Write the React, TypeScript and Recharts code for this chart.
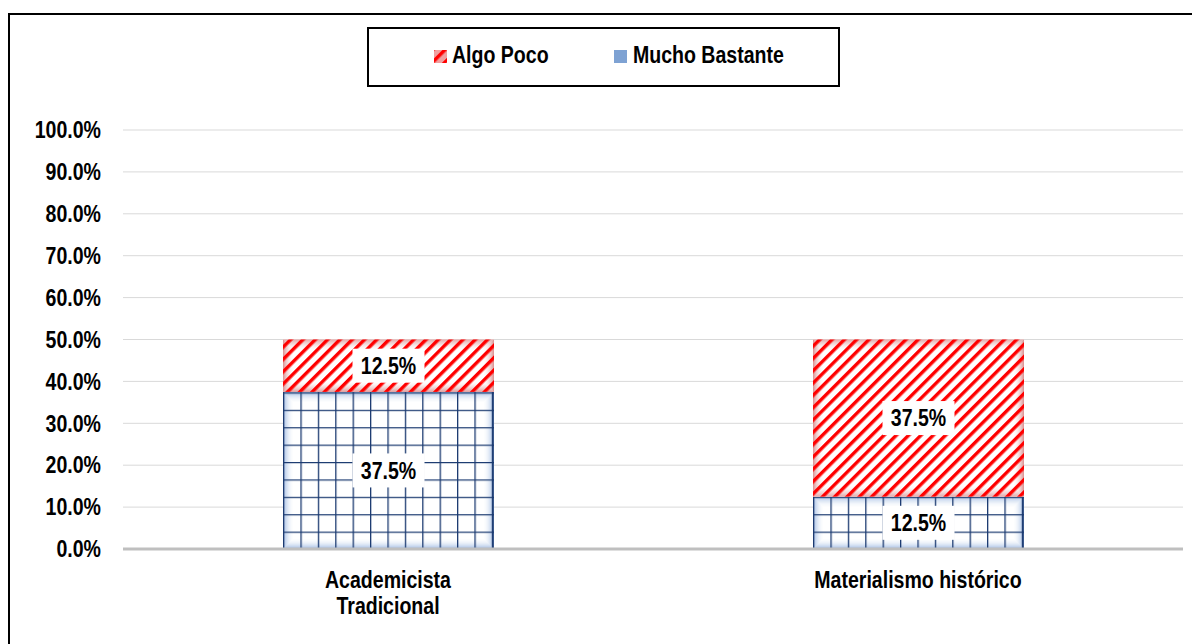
import React from 'react'
import {
  BarChart, Bar, XAxis, YAxis, CartesianGrid, Legend, LabelList,
} from 'recharts'

const categories = ['Academicista\nTradicional', 'Materialismo histórico']
const muchoBastante = [37.5, 12.5]
const algoPoco = [12.5, 37.5]
const yTicks = [0, 10, 20, 30, 40, 50, 60, 70, 80, 90, 100]

const data = categories.map((name, i) => ({
  name,
  mucho: muchoBastante[i],
  algo: algoPoco[i],
}))

const FONT = '"Liberation Sans", Arial, sans-serif'
const pct = (v: number) => `${Number(v).toFixed(1)}%`

// bold text squeezed horizontally, like a narrow face
function Narrow({ x, y, anchor = 'middle', dy = 0, children }: any) {
  return (
    <text transform={`translate(${x} ${y}) scale(0.85 1)`} x={0} y={0} dy={dy} textAnchor={anchor}
      fontFamily={FONT} fontWeight={700} fontSize={23} fill="#000">
      {children}
    </text>
  )
}

// soft coloured rim fading towards the middle of the segment
function Glow({ x, y, width, height, color }: { x: number; y: number; width: number; height: number; color: string }) {
  const rings = [0.95, 0.78, 0.62, 0.48, 0.36, 0.26, 0.18, 0.11, 0.06, 0.03]
  return (
    <g>
      {rings.map((o, i) => (
        <rect key={i} x={x + i + 0.5} y={y + i + 0.5} width={Math.max(0, width - 2 * i - 1)} height={Math.max(0, height - 2 * i - 1)}
          fill="none" stroke={color} strokeOpacity={o} strokeWidth={1} />
      ))}
    </g>
  )
}

function GridBar(props: any) {
  const { x, y, width, height, index } = props
  if (!height) return null
  const id = `grid-${index}`
  return (
    <g>
      <defs>
        <pattern id={id} patternUnits="userSpaceOnUse" x={x} y={y + height} width={17.4} height={17.4}>
          <path d="M0.6 0V17.4M0 0.6H17.4" stroke="#1b3a70" strokeWidth={1.4} fill="none" />
        </pattern>
      </defs>
      <rect x={x} y={y} width={width} height={height} fill="#ffffff" />
      <Glow x={x} y={y} width={width} height={height} color="#9fbae2" />
      <rect x={x} y={y} width={width} height={height} fill={`url(#${id})`} />
      <line x1={x + width - 1} x2={x + width - 1} y1={y} y2={y + height} stroke="#1b3a70" strokeWidth={1.4} />
    </g>
  )
}

function HatchBar(props: any) {
  const { x, y, width, height } = props
  if (!height) return null
  return (
    <g>
      <rect x={x} y={y} width={width} height={height} fill="#ffffff" />
      <Glow x={x} y={y} width={width} height={height} color="#dc9494" />
      <rect x={x} y={y} width={width} height={height} fill="url(#hatch)" />
    </g>
  )
}

function ValueLabel(props: any) {
  const { x, y, width, height, value } = props
  const cx = x + width / 2
  const cy = y + height / 2
  return (
    <g>
      <rect x={cx - 36} y={cy - 17} width={72} height={34} fill="#ffffff" />
      <Narrow x={cx} y={cy} dy="0.36em">{pct(value)}</Narrow>
    </g>
  )
}

function ValueTick({ x, y, payload }: any) {
  return <Narrow x={x} y={y} dy="0.36em" anchor="end">{pct(payload.value)}</Narrow>
}

function CategoryTick({ x, y, payload }: any) {
  const lines = String(payload.value).split('\n')
  return (
    <g>
      {lines.map((l, i) => (
        <Narrow key={i} x={x} y={y + 39 + i * 26}>{l}</Narrow>
      ))}
    </g>
  )
}

function LegendBox() {
  return (
    <svg width={473} height={60} style={{ display: 'block' }}>
      <rect x={1} y={1} width={471} height={58} fill="#fff" stroke="#000" strokeWidth={2} />
      <rect x={67} y={23} width={13} height={13} fill="#f0a0a0" />
      <rect x={67} y={23} width={13} height={13} fill="url(#hatch)" />
      <Narrow x={85} y={36} anchor="start">Algo Poco</Narrow>
      <rect x={247} y={23} width={13} height={13} fill="#7ea2d3" />
      <Narrow x={266} y={36} anchor="start">Mucho Bastante</Narrow>
    </svg>
  )
}

export default function App() {
  return (
    <div style={{
      position: 'absolute', left: 8, top: 13, width: 1184, height: 631, boxSizing: 'border-box',
      borderTop: '2px solid #000', borderLeft: '2px solid #000', background: '#fff',
    }}>
      <svg width={0} height={0} style={{ position: 'absolute' }}>
        <defs>
          <pattern id="hatch" patternUnits="userSpaceOnUse" width={8.7} height={8.7} patternTransform="rotate(45)">
            <rect x={0} y={0} width={3.4} height={8.7} fill="#ff0000" />
          </pattern>
        </defs>
      </svg>
      <BarChart width={1182} height={629} data={data} margin={{ top: 55, right: 9, bottom: 0, left: 0 }}>
        <CartesianGrid horizontal vertical={false} stroke="#d9d9d9" />
        <XAxis dataKey="name" height={95} tickSize={0} tickMargin={0} axisLine={{ stroke: '#bfbfbf', strokeWidth: 3 }}
          tickLine={false} tick={<CategoryTick />} interval={0} />
        <YAxis domain={[0, 100]} ticks={yTicks} width={113} tickSize={0} tickMargin={22} axisLine={false} tickLine={false}
          tick={<ValueTick />} />
        <Legend verticalAlign="top" content={<LegendBox />} wrapperStyle={{ top: 12, left: 357, width: 473, height: 60 }} />
        <Bar dataKey="mucho" name="Mucho Bastante" stackId="a" barSize={211} fill="#7ea2d3" shape={<GridBar />} isAnimationActive={false}>
          <LabelList dataKey="mucho" content={<ValueLabel />} />
        </Bar>
        <Bar dataKey="algo" name="Algo Poco" stackId="a" barSize={211} fill="#ff0000" shape={<HatchBar />} isAnimationActive={false}>
          <LabelList dataKey="algo" content={<ValueLabel />} />
        </Bar>
      </BarChart>
    </div>
  )
}
